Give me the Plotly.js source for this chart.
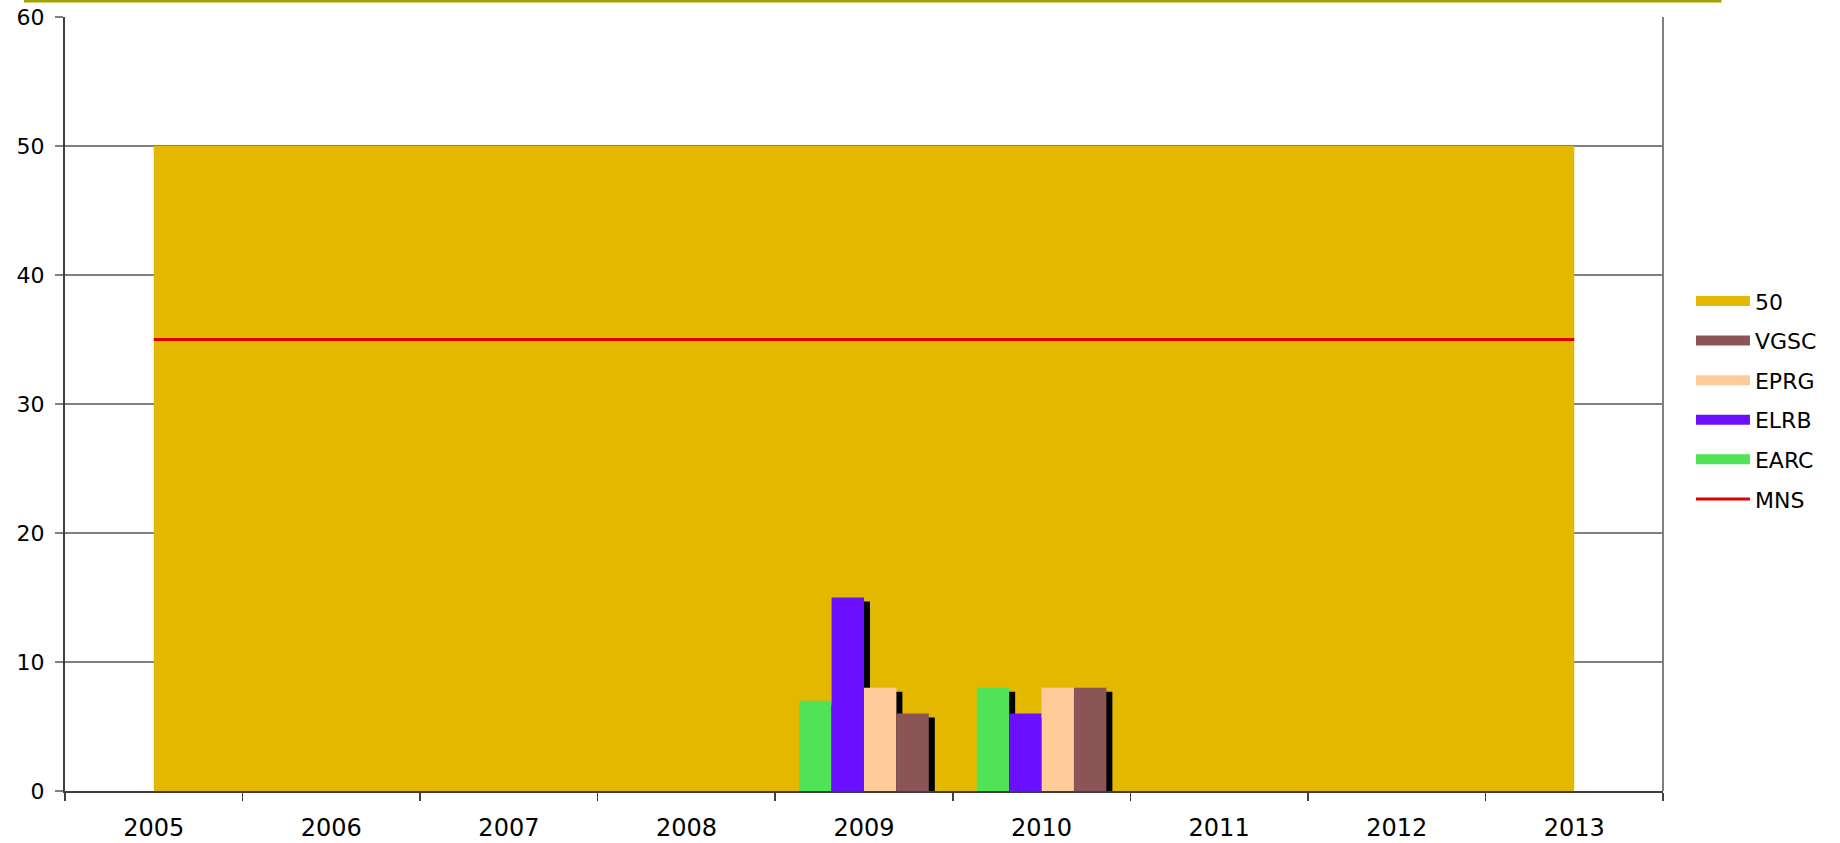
<!DOCTYPE html>
<html>
<head>
<meta charset="utf-8">
<script src="https://cdn.plot.ly/plotly-3.0.1.min.js"></script>
<style>html,body{margin:0;padding:0;background:#fff;}#chart{width:1840px;height:843px;}</style>
</head>
<body>
<div id="chart"></div>
<script>
// ---- data ----
const years = ['2005','2006','2007','2008','2009','2010','2011','2012','2013'];
const level50 = [50,50,50,50,50,50,50,50,50];
const mns = [35,35,35,35,35,35,35,35,35];
const barYears = ['2009','2010'];
const earc = [7,8];
const elrb = [15,6];
const eprg = [8,8];
const vgsc = [6,8];
const legendNames = ['50','VGSC','EPRG','ELRB','EARC','MNS'];

// ---- style ----
const C = {yellow:'#E4B800', vgsc:'#8B5558', eprg:'#FFCC99', elrb:'#6A10FF', earc:'#50E355', mns:'#DD0000', olive:'#A3A300'};
const FONT = 'DejaVu Sans, Verdana, sans-serif';
const plotW = 1598, plotH = 774;
const dxCat = 6 / (plotW / years.length);   // shadow offset in category units
const dyVal = 4 * 60 / plotH;                  // shadow offset in value units

const barSeries = [
  {name:'EARC', y:earc, color:C.earc},
  {name:'ELRB', y:elrb, color:C.elrb},
  {name:'EPRG', y:eprg, color:C.eprg},
  {name:'VGSC', y:vgsc, color:C.vgsc}
];

const traces = [];
// area "50"
traces.push({type:'scatter', mode:'lines', x:years, y:level50, fill:'tozeroy', fillcolor:C.yellow,
  line:{width:0, color:C.yellow}, showlegend:false, hoverinfo:'skip', xaxis:'x', yaxis:'y'});
// MNS line
traces.push({type:'scatter', mode:'lines', x:years, y:mns, line:{width:3, color:C.mns},
  showlegend:false, xaxis:'x', yaxis:'y'});
// shadows
barSeries.forEach(s => traces.push({type:'bar', x:barYears, y:s.y, marker:{color:'#000', line:{width:0}},
  showlegend:false, hoverinfo:'skip', xaxis:'x2', yaxis:'y2'}));
// bars
barSeries.forEach(s => traces.push({type:'bar', name:s.name, x:barYears, y:s.y, marker:{color:s.color, line:{width:0}},
  showlegend:false, xaxis:'x3', yaxis:'y3'}));
// legend entries
const legendColors = {'50':C.yellow, 'VGSC':C.vgsc, 'EPRG':C.eprg, 'ELRB':C.elrb, 'EARC':C.earc, 'MNS':C.mns};
legendNames.forEach(n => traces.push({type:'scatter', mode:'lines', x:[null], y:[null], name:n, legendgroup:'g'+n,
  line:{width: n==='MNS'?3:16, color:legendColors[n]}, xaxis:'x', yaxis:'y', hoverinfo:'skip'}));

const catAxisHidden = (shift) => ({type:'category', categoryarray:years, range:[-0.5-shift, years.length-0.5-shift],
  overlaying:'x', visible:false, fixedrange:true});

const layout = {
  width:1840, height:843,
  margin:{l:65, r:177, t:17, b:52},
  paper_bgcolor:'#fff', plot_bgcolor:'#fff',
  font:{family:FONT, size:22, color:'#000'},
  showlegend:true,
  legend:{x:1.0175, y:0.66, xanchor:'left', yanchor:'top', itemwidth:54, font:{family:FONT, size:22, color:'#000'},
    bgcolor:'rgba(0,0,0,0)', traceorder:'grouped', tracegroupgap:8, itemclick:false, itemdoubleclick:false},
  barmode:'group', bargap:0.27, bargroupgap:0,
  xaxis:{type:'category', categoryarray:years, range:[-0.5, years.length-0.5], tickson:'boundaries',
    ticks:'outside', ticklen:8, tickcolor:'#404040', tickwidth:1.5, showgrid:false, showline:true,
    linecolor:'#404040', linewidth:1.5, ticklabelstandoff:15, tickfont:{family:FONT, size:24}, fixedrange:true, zeroline:false},
  yaxis:{range:[0,60], tickvals:[0,10,20,30,40,50,60], ticks:'outside', ticklen:8, tickcolor:'#808080', tickwidth:1.5,
    showgrid:true, gridcolor:'#808080', gridwidth:1.5, showline:true, linecolor:'#404040', linewidth:2,
    zeroline:false, ticklabelstandoff:6, tickfont:{family:FONT, size:22}, fixedrange:true},
  xaxis2: catAxisHidden(dxCat),
  yaxis2:{range:[dyVal, 60+dyVal], overlaying:'y', visible:false, fixedrange:true},
  xaxis3: catAxisHidden(0),
  yaxis3:{range:[0,60], overlaying:'y', visible:false, fixedrange:true},
  shapes:[
    {type:'line', xref:'paper', yref:'paper', x0:1, x1:1, y0:0, y1:1, line:{color:'#808080', width:2}},
    {type:'line', xref:'paper', yref:'paper', x0:-0.0257, x1:1.0366, y0:1.0207, y1:1.0207, line:{color:C.olive, width:3}}
  ]
};

Plotly.newPlot('chart', traces, layout, {displayModeBar:false, staticPlot:true});
</script>
</body>
</html>
